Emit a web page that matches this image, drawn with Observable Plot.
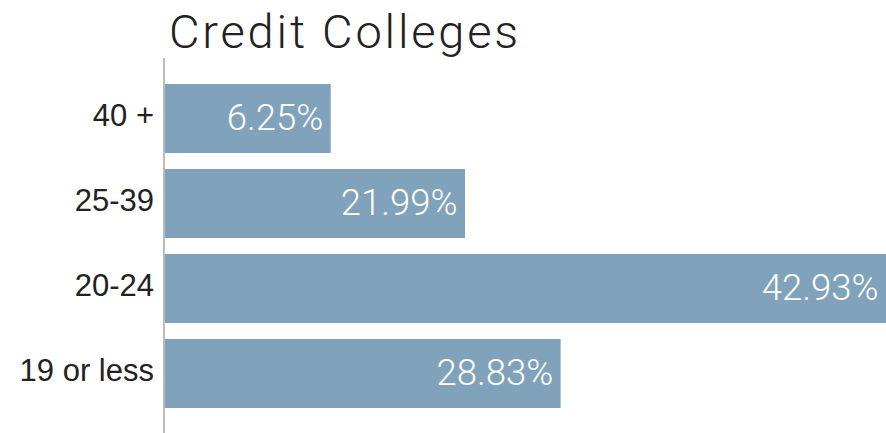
<!DOCTYPE html>
<html>
<head>
<meta charset="utf-8">
<script src="https://cdn.jsdelivr.net/npm/d3@7"></script>
<script src="https://cdn.jsdelivr.net/npm/@observablehq/plot@0.6"></script>
<style>
  html, body { margin: 0; padding: 0; background: #fff; }
  #wrap { position: relative; width: 886px; height: 433px; overflow: hidden; padding-top: 58px; box-sizing: border-box; }
  #title { position: absolute; left: 169px; top: 8px; font-family: Roboto, sans-serif; font-weight: 300; font-size: 47px; letter-spacing: 2.8px; line-height: 1; color: #222; white-space: nowrap; }
</style>
</head>
<body>
<div id="wrap">
  <div id="title">Credit Colleges</div>
  <div id="chart"></div>
</div>
<script>
// Age groups, top to bottom
const ageGroups = ["40 +", "25-39", "20-24", "19 or less"];
// Printed shares (%)
const shares = [6.25, 21.99, 42.93, 28.83];
// Bar lengths as drawn in the picture, in % units of the longest bar
// (the drawn bars do not scale with the printed shares)
const barLengths = [9.89, 17.88, 42.93, 23.57];

const data = ageGroups.map((g, i) => ({group: g, share: shares[i], length: barLengths[i]}));

const chart = Plot.plot({
  width: 886,
  height: 375,
  marginLeft: 164.5,
  marginRight: 0,
  marginTop: 9.33,
  marginBottom: 7.3,
  style: {fontFamily: "'Liberation Sans', Arial, sans-serif", color: "#222", background: "transparent"},
  x: {domain: [0, 42.93], axis: null},
  y: {domain: ageGroups, padding: 0.183, label: null, axis: null},
  marks: [
    Plot.axisY({tickSize: 0, tickPadding: 11, fontSize: 31, dy: -3, label: null}),
    Plot.barX(data, {x: "length", y: "group", fill: "#80a2ba"}),
    Plot.text(data, {
      x: "length", y: "group", text: d => d.share.toFixed(2) + "%",
      textAnchor: "end", dx: -8, dy: -1, fill: "white",
      fontFamily: "Roboto, sans-serif", fontWeight: 300, fontSize: 36.5
    }),
    Plot.ruleX([0], {stroke: "#bbb", strokeWidth: 2, dx: -1, insetTop: -9.33, insetBottom: -7.3})
  ]
});
document.getElementById("chart").appendChild(chart);
</script>
</body>
</html>
